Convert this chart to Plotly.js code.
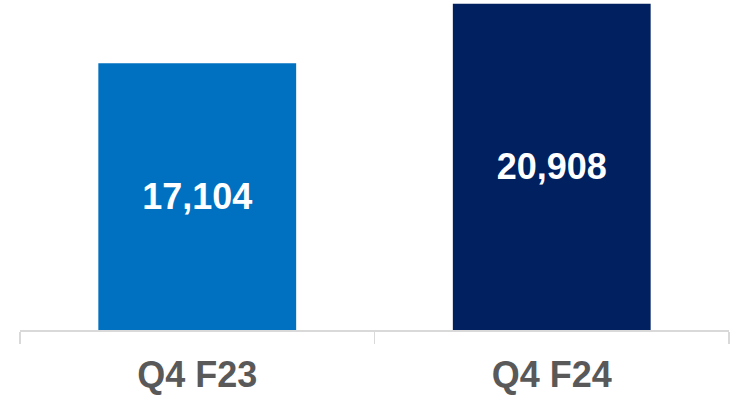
<!DOCTYPE html>
<html><head><meta charset="utf-8">
<script src="https://cdn.plot.ly/plotly-3.0.1.min.js"></script>
<style>html,body{margin:0;padding:0;background:#fff}#c{width:730px;height:403px}</style>
</head><body><div id="c"></div>
<script>
const categories = ["Q4 F23", "Q4 F24"];
const values = [17104, 20908];
const labels = ["17,104", "20,908"];
const colors = ["#0070C0", "#002060"];

Plotly.newPlot("c", [{
  type: "bar",
  x: categories,
  y: values,
  text: labels,
  texttemplate: "%{text}",
  textposition: "inside",
  insidetextanchor: "middle",
  textangle: 0,
  textfont: {family: "Liberation Sans, Arial, sans-serif", size: 36, color: "#ffffff", weight: "bold"},
  marker: {color: colors},
  hoverinfo: "none"
}], {
  width: 730, height: 403,
  margin: {l: 20, r: 1, t: 0, b: 73},
  paper_bgcolor: "#fff", plot_bgcolor: "#fff",
  bargap: 0.442,
  showlegend: false,
  xaxis: {
    type: "category",
    showline: true, linecolor: "#d9d9d9", linewidth: 1.5,
    ticks: "outside", tickson: "boundaries", ticklen: 12, tickcolor: "#d9d9d9", tickwidth: 1.5,
    ticklabelstandoff: 12,
    tickfont: {family: "Liberation Sans, Arial, sans-serif", size: 36, color: "#595959", weight: "bold"},
    showgrid: false, zeroline: false
  },
  yaxis: {range: [0, 21150], visible: false, showgrid: false, zeroline: false}
}, {displayModeBar: false, staticPlot: true});
</script></body></html>
